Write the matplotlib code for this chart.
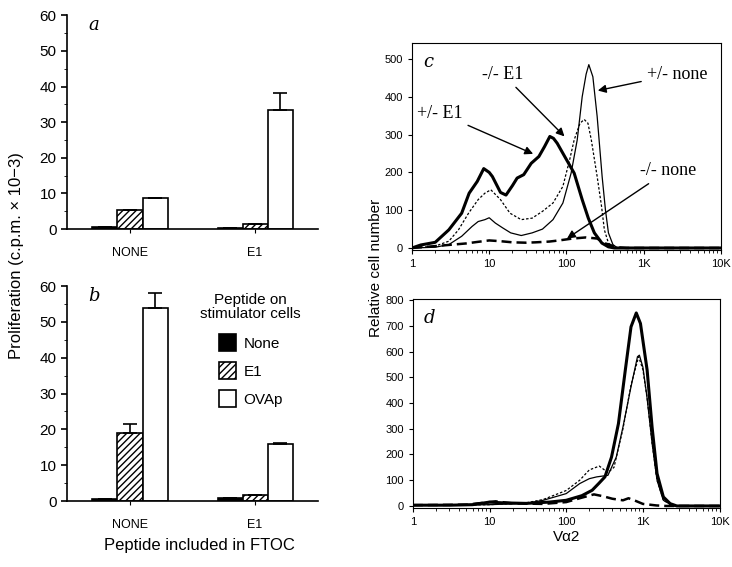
import numpy as np
import matplotlib
matplotlib.use("Agg")
import matplotlib.pyplot as plt
from matplotlib.patches import Patch
from matplotlib.ticker import LogLocator, FixedLocator, MultipleLocator

plt.rcParams['font.family'] = ['Liberation Sans', 'DejaVu Sans']
plt.rcParams['hatch.linewidth'] = 1.0

# ---- bar data (panels a, b) ----
ftoc_groups = ['NONE', 'E1']
stim_labels = ['None', 'E1', 'OVAp']
a_vals = {'None': [0.7, 0.2], 'E1': [5.3, 1.3], 'OVAp': [8.7, 33.5]}
a_err = {'None': [0, 0], 'E1': [0, 0], 'OVAp': [0, 4.8]}
b_vals = {'None': [0.6, 0.9], 'E1': [19.0, 1.6], 'OVAp': [53.8, 15.8]}
b_err = {'None': [0, 0], 'E1': [2.5, 0], 'OVAp': [4.2, 0.5]}

# ---- histogram data (panels c, d) ----
c_pe1_x = [1, 1.3, 2, 3, 4.4, 5.5, 7, 8.5, 10, 11, 14, 16.5, 20, 23, 28, 35, 44, 52, 61, 68, 76, 95, 126, 160, 192, 230, 288, 350, 420, 600, 10000]
c_pe1_y = [0, 8, 15, 48, 92, 145, 176, 210, 200, 189, 147, 140, 165, 185, 194, 224, 242, 268, 295, 290, 277, 242, 198, 128, 79, 40, 13, 3, 0, 0, 0]
c_pnone_x = [1, 2, 3, 4.4, 6, 7.2, 8.8, 10, 12, 15, 19, 26, 36, 49, 67, 90, 115, 138, 160, 180, 195, 220, 250, 290, 320, 350, 400, 460, 10000]
c_pnone_y = [0, 2, 9, 31, 57, 70, 75, 80, 66, 53, 40, 33, 40, 50, 75, 119, 198, 286, 400, 460, 485, 453, 348, 189, 101, 40, 9, 0, 0]
c_me1_x = [1, 2, 3, 4, 5.4, 7.2, 8.8, 10.5, 14, 18.6, 26, 36, 49, 67, 90, 110, 126, 150, 170, 190, 210, 250, 285, 310, 350, 420, 10000]
c_me1_y = [0, 5, 18, 48, 92, 128, 145, 154, 128, 92, 75, 79, 97, 119, 163, 233, 286, 330, 340, 330, 286, 189, 110, 48, 13, 0, 0]
c_mnone_x = [1, 2, 5, 7, 10, 14, 20, 30, 40, 60, 80, 120, 180, 250, 320, 450, 600, 10000]
c_mnone_y = [0, 5, 12, 16, 20, 18, 15, 14, 15, 17, 20, 25, 28, 25, 12, 2, 0, 0]

d_pe1_x = [1, 3, 6, 10, 15, 30, 60, 100, 160, 218, 265, 320, 390, 480, 590, 700, 820, 930, 1136, 1318, 1530, 1850, 2270, 2770, 10000]
d_pe1_y = [3, 3, 5, 15, 12, 10, 15, 22, 40, 61, 87, 113, 190, 320, 528, 696, 750, 709, 528, 307, 126, 35, 9, 0, 0]
d_pnone_x = [1, 3, 10, 30, 50, 100, 150, 200, 250, 350, 450, 550, 700, 850, 900, 1000, 1130, 1320, 1530, 1850, 2500, 10000]
d_pnone_y = [3, 3, 5, 10, 22, 48, 87, 106, 113, 119, 190, 307, 463, 580, 586, 540, 424, 243, 100, 22, 0, 0]
d_me1_x = [1, 3, 10, 30, 50, 100, 150, 200, 270, 350, 420, 550, 700, 880, 1000, 1130, 1320, 1530, 1850, 2500, 10000]
d_me1_y = [3, 3, 5, 12, 25, 60, 100, 140, 155, 130, 150, 300, 470, 580, 530, 424, 243, 100, 22, 0, 0]
d_mnone_x = [1, 5, 10, 12, 20, 50, 100, 150, 230, 300, 400, 550, 650, 800, 1000, 1500, 2000, 10000]
d_mnone_y = [3, 5, 15, 18, 10, 8, 15, 30, 45, 38, 28, 22, 30, 20, 8, 2, 0, 0]

fig = plt.figure(figsize=(7.32, 5.67), dpi=100)

bar_styles = {'None': dict(facecolor='black', hatch=None),
              'E1': dict(facecolor='white', hatch='/////'),
              'OVAp': dict(facecolor='white', hatch=None)}


def bar_panel(rect, vals, errs, letter):
    ax = fig.add_axes(rect)
    x = np.arange(len(ftoc_groups))
    w = 0.2
    for i, lab in enumerate(stim_labels):
        st = bar_styles[lab]
        e = errs[lab]
        ax.bar(x + (i - 1) * w, vals[lab], w, color=st['facecolor'], edgecolor='black',
               hatch=st['hatch'], linewidth=1.2,
               yerr=[[0] * len(e), e], capsize=5,
               error_kw=dict(elinewidth=1.2, capthick=1.2, ecolor='black'))
    ax.set_xlim(-0.504, 1.504)
    ax.set_ylim(0, 60)
    ax.set_yticks([0, 10, 20, 30, 40, 50, 60])
    ax.yaxis.set_minor_locator(MultipleLocator(5))
    ax.set_xticks(x)
    ax.set_xticklabels(ftoc_groups, fontsize=9)
    ax.tick_params(axis='y', labelsize=11, width=1.2, length=4)
    ax.tick_params(axis='y', which='minor', length=2)
    ax.tick_params(axis='x', length=3, pad=10)
    for s in ['top', 'right']:
        ax.spines[s].set_visible(False)
    ax.spines['left'].set_linewidth(1.2)
    ax.spines['bottom'].set_linewidth(1.2)
    ax.text(0.085, 0.995, letter, transform=ax.transAxes, fontsize=13,
            family='DejaVu Serif', style='italic', va='top')
    return ax


ax_a = bar_panel([0.0915, 0.596, 0.343, 0.377], a_vals, a_err, 'a')
ax_b = bar_panel([0.0915, 0.1164, 0.343, 0.379], b_vals, b_err, 'b')

ax_b.text(0.73, 0.97, 'Peptide on\nstimulator cells', transform=ax_b.transAxes,
          fontsize=11, ha='center', va='top', linespacing=1.0)
handles = [Patch(facecolor=bar_styles[l]['facecolor'], edgecolor='black',
                 hatch=bar_styles[l]['hatch'], linewidth=1.2) for l in stim_labels]
ax_b.legend(handles, stim_labels, loc='upper left', bbox_to_anchor=(0.55, 0.84),
            frameon=False, fontsize=11, handlelength=1.1, handleheight=1.3,
            labelspacing=0.75, handletextpad=0.5)

fig.text(0.022, 0.55, 'Proliferation (c.p.m. × 10−3)', rotation=90,
         ha='center', va='center', fontsize=12)
fig.text(0.272, 0.038, 'Peptide included in FTOC', ha='center', va='center', fontsize=12)


def hist_panel(rect, curves, ymax, yticks, letter):
    ax = fig.add_axes(rect)
    for xs, ys, st in curves:
        ax.plot(xs, ys, color='black', **st)
    ax.set_xscale('log')
    ax.set_xlim(1, 10000)
    ax.set_ylim(-ymax * 0.01, ymax)
    ax.set_yticks(yticks)
    ax.xaxis.set_major_locator(FixedLocator([1, 10, 100, 1000, 10000]))
    ax.set_xticklabels(['1', '10', '100', '1K', '10K'])
    ax.xaxis.set_minor_locator(LogLocator(base=10, subs=np.arange(2, 10)))
    ax.xaxis.set_minor_formatter(plt.NullFormatter())
    ax.tick_params(labelsize=8, length=3)
    ax.tick_params(axis='x', which='minor', length=2)
    ax.text(0.035, 0.95, letter, transform=ax.transAxes, fontsize=13,
            family='DejaVu Serif', style='italic', va='top')
    return ax


sty_thick = dict(lw=2.2, ls='-')
sty_thin = dict(lw=0.9, ls='-')
sty_dot = dict(lw=0.9, ls=(0, (2, 1.5)))
sty_dash = dict(lw=1.8, ls=(0, (4, 2)))

ax_c = hist_panel([0.5628, 0.559, 0.422, 0.365],
                  [(c_pe1_x, c_pe1_y, sty_thick), (c_pnone_x, c_pnone_y, sty_thin),
                   (c_me1_x, c_me1_y, sty_dot), (c_mnone_x, c_mnone_y, sty_dash)],
                  542, [0, 100, 200, 300, 400, 500], 'c')
ax_d = hist_panel([0.564, 0.104, 0.419, 0.369],
                  [(d_pe1_x, d_pe1_y, sty_thick), (d_pnone_x, d_pnone_y, sty_thin),
                   (d_me1_x, d_me1_y, sty_dot), (d_mnone_x, d_mnone_y, sty_dash)],
                  805, [0, 100, 200, 300, 400, 500, 600, 700, 800], 'd')
ax_d.set_xlabel('Vα2', fontsize=11, labelpad=2)

fig.text(0.513, 0.527, 'Relative cell number', rotation=90, ha='center',
         va='center', fontsize=11)

arrow = dict(arrowstyle='-|>', color='black', lw=1.0, mutation_scale=12)
txt = dict(fontsize=13, family='Liberation Serif', ha='center', va='center')
ax_c.annotate('-/- E1', xy=(100, 290), xytext=(15, 460), arrowprops=arrow, **txt)
ax_c.annotate('+/- none', xy=(235, 415), xytext=(2700, 460), arrowprops=arrow, **txt)
ax_c.annotate('+/- E1', xy=(40, 246), xytext=(2.3, 357), arrowprops=arrow, **txt)
ax_c.annotate('-/- none', xy=(95, 21), xytext=(2050, 204), arrowprops=arrow, **txt)

fig.savefig('out.png', dpi=100)
